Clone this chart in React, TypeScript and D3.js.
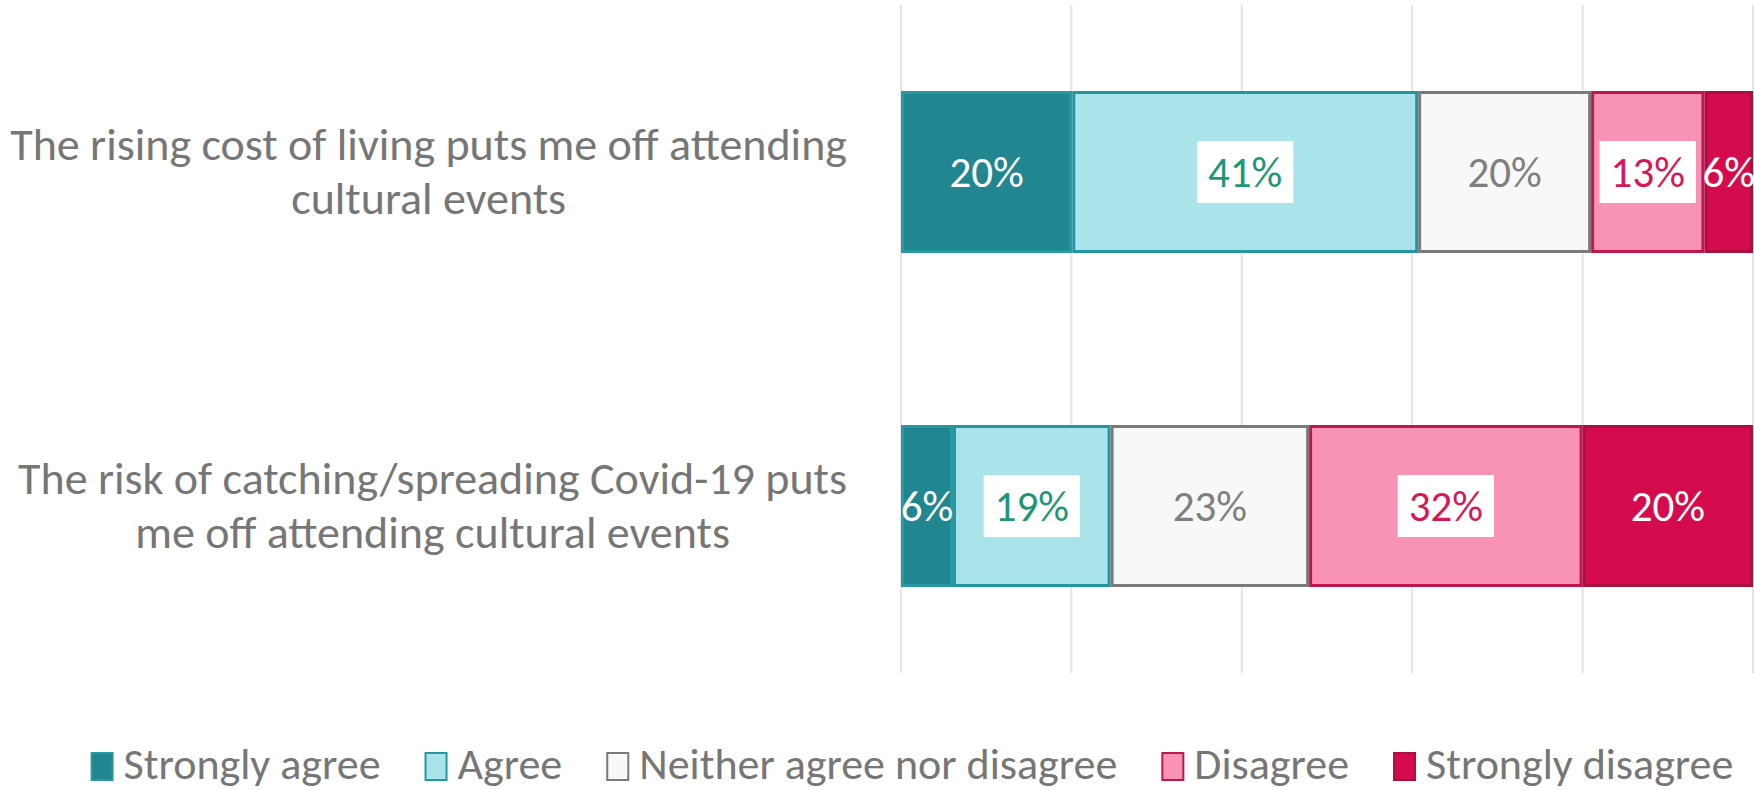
import React, { useEffect, useRef } from "react";
import * as d3 from "d3";

const categoryLines: string[][] = [
  ["The rising cost of living puts me off attending", "cultural events"],
  ["The risk of catching/spreading Covid-19 puts", "me off attending cultural events"],
];
const seriesNames = ["Strongly agree", "Agree", "Neither agree nor disagree", "Disagree", "Strongly disagree"];
const stronglyAgree = [20.1, 6.1];
const agree = [40.6, 18.5];
const neither = [20.3, 23.3];
const disagree = [13.3, 32.1];
const stronglyDisagree = [5.7, 20];
const xTicks = [0, 20, 40, 60, 80, 100];

const fills = ["#21868F", "#A9E4EA", "#F8F8F8", "#F893B5", "#D40C4D"];
const strokes = ["#2A98A2", "#2596A1", "#7A7A7A", "#C0164F", "#A8103F"];
const labelColors = ["#FFFFFF", "#1E9679", "#7F7F7F", "#D6185A", "#FFFFFF"];
const labelBoxed = [false, true, false, true, false];

const W = 1754;
const H = 790;
const FONT = "Carlito, Lato, sans-serif";

export default function App() {
  const ref = useRef<SVGSVGElement>(null);
  useEffect(() => {
    const svg = d3.select(ref.current);
    svg.selectAll("*").remove();
    const series = [stronglyAgree, agree, neither, disagree, stronglyDisagree];
    const x = d3.scaleLinear().domain([0, 100]).range([901, 1753]);
    const y = d3.scaleBand<number>().domain([0, 1]).range([5, 673]).paddingInner(0.515).paddingOuter(0.2575);

    // gridlines
    svg.append("g").selectAll("line").data(xTicks).join("line")
      .attr("x1", d => x(d)).attr("x2", d => x(d))
      .attr("y1", 5).attr("y2", 673)
      .attr("stroke", "#E4E4E4").attr("stroke-width", 2);

    // bars
    categoryLines.forEach((_, ci) => {
      let cum = 0;
      const g = svg.append("g");
      series.forEach((s, si) => {
        const v = s[ci];
        const x0 = x(cum), x1 = x(cum + v);
        cum += v;
        g.append("rect")
          .attr("x", x0 + 1.5).attr("y", (y(ci) as number) + 1.5)
          .attr("width", Math.max(0, x1 - x0 - 3)).attr("height", y.bandwidth() - 3)
          .attr("fill", fills[si]).attr("stroke", strokes[si]).attr("stroke-width", 3);
      });
      cum = 0;
      series.forEach((s, si) => {
        const v = s[ci];
        const cx = x(cum + v / 2);
        cum += v;
        const cy = (y(ci) as number) + y.bandwidth() / 2;
        const t = g.append("text")
          .attr("x", cx).attr("y", cy)
          .attr("text-anchor", "middle").attr("dominant-baseline", "central")
          .attr("font-family", FONT).attr("font-size", 43)
          .attr("fill", labelColors[si])
          .text(`${Math.round(v)}%`);
        if (labelBoxed[si]) {
          const w = (t.node() as SVGTextElement).getComputedTextLength();
          g.insert("rect", () => t.node() as any)
            .attr("x", cx - w / 2 - 11).attr("y", cy - 31)
            .attr("width", w + 22).attr("height", 62)
            .attr("fill", "#FFFFFF");
        }
      });
    });

    // category labels
    categoryLines.forEach((lines, ci) => {
      const cy = (y(ci) as number) + y.bandwidth() / 2;
      const g = svg.append("g");
      const texts = lines.map((ln, li) =>
        g.append("text")
          .attr("y", cy - 28 + li * 54)
          .attr("dominant-baseline", "central")
          .attr("text-anchor", "middle")
          .attr("font-family", FONT).attr("font-size", 46)
          .attr("fill", "#767676")
          .text(ln)
      );
      const maxW = d3.max(texts, t => (t.node() as SVGTextElement).getComputedTextLength()) || 0;
      texts.forEach(t => t.attr("x", 847 - maxW / 2));
    });

    // legend
    const lg = svg.append("g");
    let cursor = 0;
    const items: { sx: number; tx: number }[] = [];
    seriesNames.forEach((name, i) => {
      const t = lg.append("text")
        .attr("y", 764).attr("dominant-baseline", "central")
        .attr("font-family", FONT).attr("font-size", 44)
        .attr("fill", "#767676").text(name);
      const w = (t.node() as SVGTextElement).getComputedTextLength();
      items.push({ sx: cursor, tx: cursor + 33 });
      cursor += 33 + w + (i < seriesNames.length - 1 ? 44 : 0);
    });
    const start = 912 - cursor / 2;
    lg.selectAll("text").each(function (_, i) {
      d3.select(this).attr("x", start + items[i].tx);
    });
    seriesNames.forEach((_, i) => {
      lg.append("rect")
        .attr("x", start + items[i].sx + 1).attr("y", 753)
        .attr("width", 21).attr("height", 27)
        .attr("fill", fills[i]).attr("stroke", strokes[i]).attr("stroke-width", 2);
    });
  }, []);
  return (
    <svg ref={ref} width={W} height={H}
      style={{ position: "absolute", left: 0, top: 0, background: "#FFFFFF" }} />
  );
}
